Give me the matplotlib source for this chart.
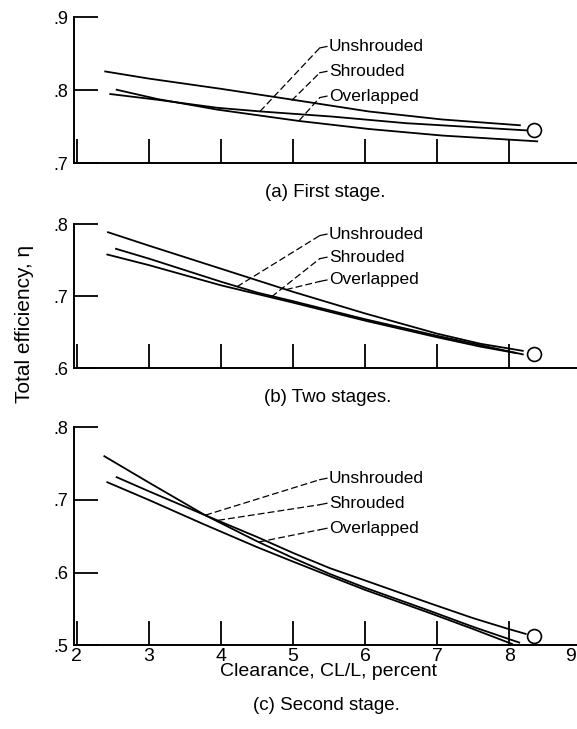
import matplotlib
matplotlib.use("Agg")
import matplotlib.pyplot as plt

plt.rcParams['font.family'] = ['Liberation Sans', 'DejaVu Sans']

# ---- clearance axis ----
x_ticks = [2, 3, 4, 5, 6, 7, 8, 9]
x_ticklabels = ['2', '3', '4', '5', '6', '7', '8', '9']

# ---- (a) first stage ----
a_unshrouded_x = [2.45, 3.12, 3.95, 4.55, 5.54, 6.56, 7.58, 8.25]
a_unshrouded_y = [0.795, 0.787, 0.776, 0.771, 0.764, 0.755, 0.749, 0.745]
a_shrouded_x = [2.38, 3.0, 4.0, 5.0, 6.05, 7.07, 8.16]
a_shrouded_y = [0.826, 0.816, 0.802, 0.787, 0.771, 0.760, 0.752]
a_overlapped_x = [2.54, 3.12, 3.95, 5.08, 6.05, 7.07, 8.40]
a_overlapped_y = [0.801, 0.788, 0.7735, 0.758, 0.747, 0.738, 0.730]
a_yticks = [0.7, 0.8, 0.9]
a_yticklabels = ['.7', '.8', '.9']

# ---- (b) two stages ----
b_unshrouded_x = [2.53, 3.0, 4.0, 4.5, 5.0, 6.0, 7.0, 7.6, 8.2]
b_unshrouded_y = [0.766, 0.752, 0.720, 0.705, 0.693, 0.668, 0.645, 0.632, 0.619]
b_shrouded_x = [2.41, 3.0, 4.0, 4.5, 5.0, 6.0, 7.0, 7.6, 8.1]
b_shrouded_y = [0.758, 0.743, 0.715, 0.703, 0.691, 0.666, 0.643, 0.630, 0.621]
b_overlapped_x = [2.42, 3.0, 4.0, 5.0, 6.0, 7.0, 7.6, 8.2]
b_overlapped_y = [0.789, 0.770, 0.738, 0.706, 0.676, 0.648, 0.634, 0.624]
b_yticks = [0.6, 0.7, 0.8]
b_yticklabels = ['.6', '.7', '.8']

# ---- (c) second stage ----
c_unshrouded_x = [2.37, 3.0, 3.78, 4.5, 5.0, 5.51, 6.0, 6.9, 7.5, 8.15]
c_unshrouded_y = [0.761, 0.724, 0.679, 0.643, 0.620, 0.598, 0.579, 0.547, 0.525, 0.503]
c_shrouded_x = [2.54, 3.0, 3.78, 4.5, 5.0, 5.51, 6.0, 6.9, 7.5, 7.96, 8.24]
c_shrouded_y = [0.732, 0.712, 0.679, 0.649, 0.627, 0.606, 0.589, 0.5575, 0.537, 0.523, 0.515]
c_overlapped_x = [2.41, 3.0, 3.75, 4.5, 5.0, 5.51, 6.0, 6.9, 7.5, 8.05]
c_overlapped_y = [0.725, 0.700, 0.667, 0.635, 0.615, 0.595, 0.576, 0.544, 0.522, 0.501]
c_yticks = [0.5, 0.6, 0.7, 0.8]
c_yticklabels = ['.5', '.6', '.7', '.8']

# design point (open circle) for each case
design_x = [8.34, 8.34, 8.34]
design_eta = [0.745, 0.620, 0.512]

series_names = ['Unshrouded', 'Shrouded', 'Overlapped']

fig = plt.figure(figsize=(5.77, 7.29), dpi=100)

left, width = 0.1283, 0.8792
ax_a = fig.add_axes([left, 0.7760, width, 0.2003])
ax_b = fig.add_axes([left, 0.4948, width, 0.1979])
ax_c = fig.add_axes([left, 0.1152, width, 0.2984])

panels = [
    (ax_a, [(a_unshrouded_x, a_unshrouded_y), (a_shrouded_x, a_shrouded_y),
            (a_overlapped_x, a_overlapped_y)], (0.7, 0.9), a_yticks, a_yticklabels,
     # label heights, then leader tips on the curves
     [0.860, 0.826, 0.792], [(4.54, 0.771), (4.98, 0.786), (5.08, 0.758)]),
    (ax_b, [(b_unshrouded_x, b_unshrouded_y), (b_shrouded_x, b_shrouded_y),
            (b_overlapped_x, b_overlapped_y)], (0.6, 0.8), b_yticks, b_yticklabels,
     [0.786, 0.754, 0.7224], [(4.22, 0.713), (4.70, 0.699), (4.90, 0.709)]),
    (ax_c, [(c_unshrouded_x, c_unshrouded_y), (c_shrouded_x, c_shrouded_y),
            (c_overlapped_x, c_overlapped_y)], (0.5, 0.8), c_yticks, c_yticklabels,
     [0.730, 0.6955, 0.661], [(3.78, 0.679), (3.96, 0.672), (4.52, 0.642)]),
]

for i, (ax, curves, ylim, yt, ytl, label_y, tips) in enumerate(panels):
    for cx, cy in curves:
        ax.plot(cx, cy, color='black', lw=1.3, solid_capstyle='butt')
    ax.plot(design_x[i], design_eta[i], 'o', ms=10, mfc='white', mec='black', mew=1.2,
            zorder=5)

    # leader lines from the curve labels
    for name, ly, (tx, ty) in zip(series_names, label_y, tips):
        ax.plot([tx, 5.37], [ty, ly - 0.002], color='black', lw=0.9,
                linestyle=(0, (5.5, 2.5)))
        ax.plot([5.37, 5.47], [ly - 0.002, ly], color='black', lw=0.9)
        ax.text(5.50, ly, name, fontsize=12.5, va='center', ha='left')

    ax.set_xlim(1.96, 9.0)
    ax.set_ylim(*ylim)
    ax.set_xticks(x_ticks)
    ax.set_yticks(yt)
    ax.set_yticklabels(ytl)
    for s in ['top', 'right']:
        ax.spines[s].set_visible(False)
    for s in ['left', 'bottom']:
        ax.spines[s].set_linewidth(1.4)
    ax.tick_params(axis='both', direction='in', length=17, width=1.3)
    ax.tick_params(axis='y', labelsize=13, pad=4)
    ax.tick_params(axis='x', labelsize=14, pad=2)
    ax.patch.set_visible(False)

ax_a.tick_params(labelbottom=False)
ax_b.tick_params(labelbottom=False)

# the last clearance label sits on the page edge; nudge it inward
ax_c.set_xticklabels(x_ticklabels[:-1] + [''])
ax_c.annotate(x_ticklabels[-1], xy=(x_ticks[-1], 0), xycoords=('data', 'axes fraction'),
              xytext=(-4, -2), textcoords='offset points', ha='right', va='top',
              fontsize=14, annotation_clip=False)

fig.text(325 / 577, 1 - 192.7 / 729, '(a) First stage.', fontsize=13.5, ha='center', va='center')
fig.text(328 / 577, 1 - 398 / 729, '(b) Two stages.', fontsize=13.5, ha='center', va='center')
fig.text(328 / 577, 1 - 671.7 / 729, 'Clearance, CL/L, percent', fontsize=14, ha='center', va='center')
fig.text(326 / 577, 1 - 706 / 729, '(c) Second stage.', fontsize=13.5, ha='center', va='center')
fig.text(25 / 577, 1 - 324 / 729, 'Total efficiency, η', fontsize=15, rotation=90,
         ha='center', va='center')

fig.savefig('out.png', dpi=100)
